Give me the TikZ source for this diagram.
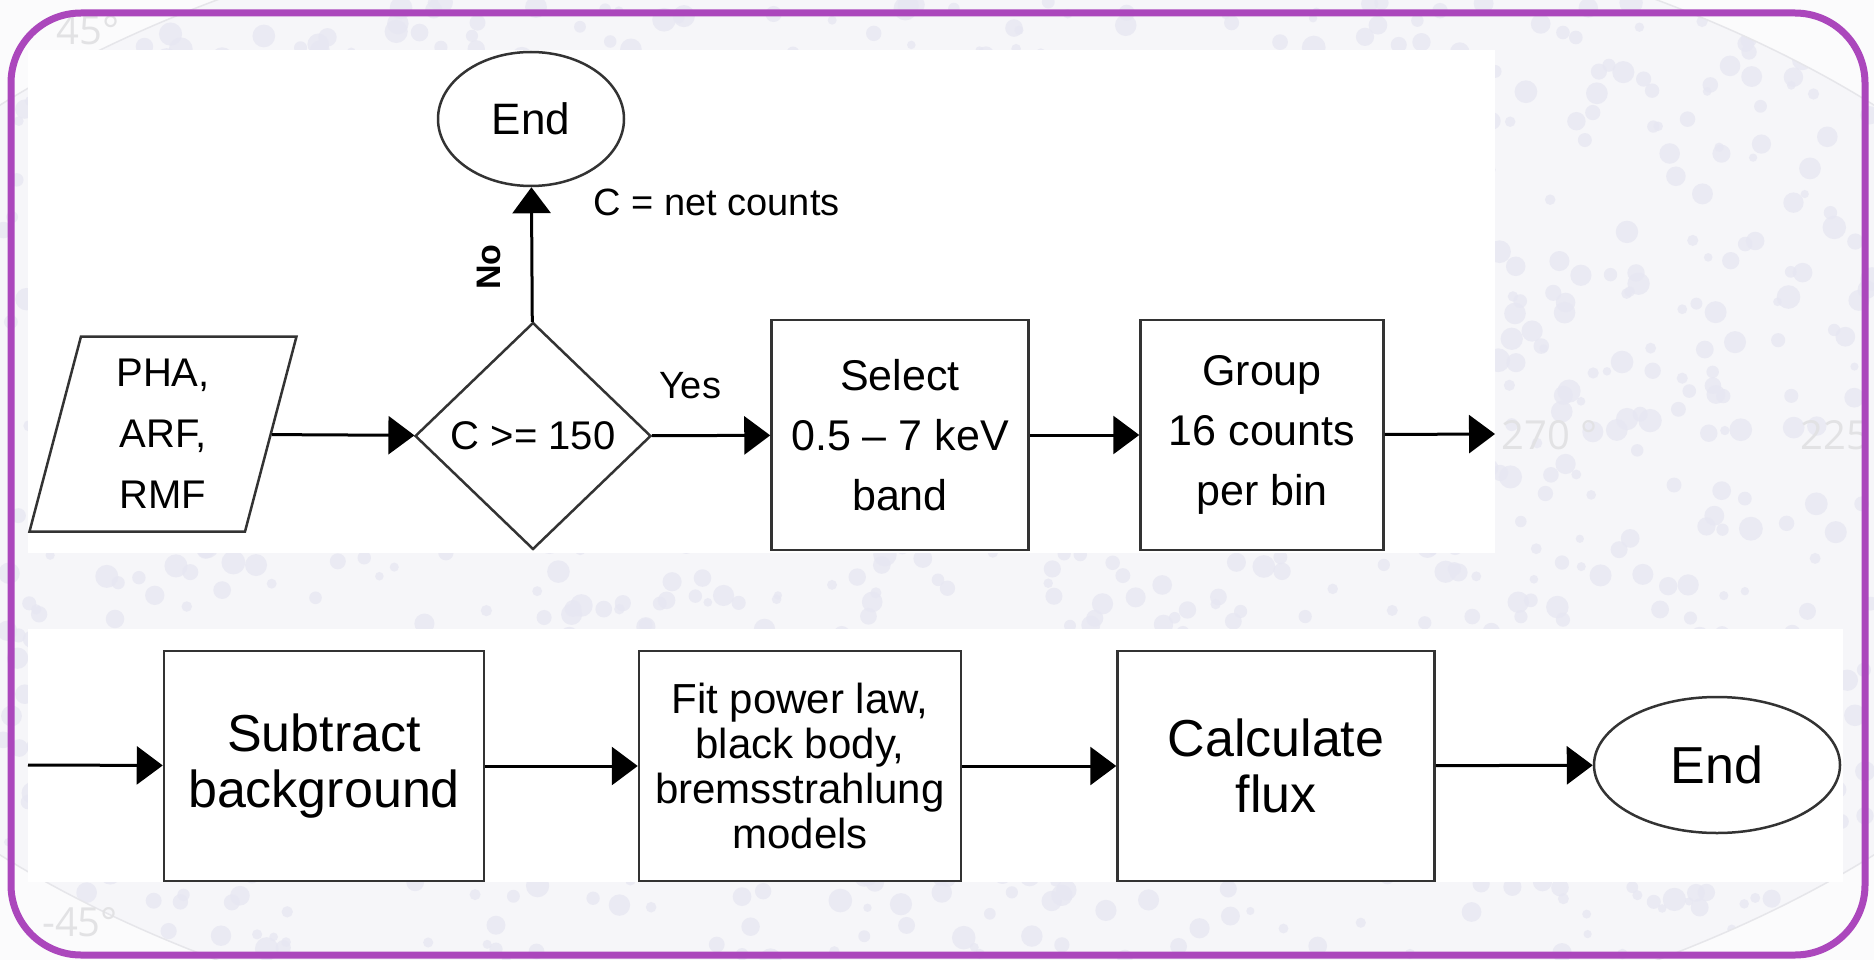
\documentclass[tikz,border=0pt]{standalone}
\usepackage{fontspec}
\setmainfont{Liberation Sans}
\newfontfamily\gridfont{Open Sans}
\usetikzlibrary{shapes.geometric,arrows.meta}

\definecolor{frame}{HTML}{AB47BC}
\definecolor{boxline}{HTML}{333333}
\definecolor{sky}{HTML}{F6F6F9}
\definecolor{skyout}{HTML}{FBFBFC}
\definecolor{skydot}{HTML}{E7E7F2}
\definecolor{skyline}{HTML}{E6E6EA}
\definecolor{gridtext}{HTML}{E2E2E4}

\newcommand{\toprowfont}{\fontsize{43}{60}\selectfont}
\newcommand{\botrowfont}{\fontsize{52}{56}\selectfont}
\newcommand{\fitfont}{\fontsize{42}{45}\selectfont}
\newcommand{\lblfont}{\fontsize{38}{44}\selectfont}

\tikzset{
  proc/.style={draw=boxline, line width=2.5pt, fill=white, align=center,
    inner sep=0pt, minimum height=230pt},
  term/.style={draw=boxline, ellipse, line width=2.5pt, fill=white, inner sep=0pt},
  arr/.style={-{Triangle[length=26pt,width=38pt]}, line width=3pt},
  gridlbl/.style={text=gridtext, font=\gridfont\fontsize{40}{44}\selectfont}
}

\begin{document}
\begin{tikzpicture}[x=1pt,y=-1pt]
  \useasboundingbox (0,0) rectangle (1874,960);

  % faint sky map behind the chart
  \fill[skyout] (0,0) rectangle (1874,960);
  \fill[sky] (937,480) ellipse [x radius=1200, y radius=600];
  \begin{scope}
    \clip (937,480) ellipse [x radius=1200, y radius=600];
    \pgfmathsetseed{11}
    \foreach \i in {1,...,1400}
      \fill[skydot, opacity=0.8] (rnd*1874,rnd*960) circle [radius=4+rnd*8];
  \end{scope}
  \draw[skyline, line width=1.5pt] (937,480) ellipse [x radius=1200, y radius=600];
  \node[gridlbl] at (88,30) {45°};
  \node[gridlbl] at (1550,435) {270 °};
  \node[gridlbl, anchor=west] at (1797,435) {225};
  \node[gridlbl] at (80,922) {-45°};

  % white panels
  \fill[white] (28,50) rectangle (1495,553);
  \fill[white] (28,629) rectangle (1843,882);

  % top row
  \node[trapezium, trapezium left angle=71, trapezium right angle=109,
    trapezium stretches body, draw=boxline, line width=2.5pt, fill=white,
    minimum width=267pt, minimum height=195pt, inner sep=0pt, align=center,
    font=\fontsize{40}{61}\selectfont] (data) at (163,434) {PHA,\\ARF,\\RMF};
  \node[diamond, draw=boxline, line width=2.5pt, fill=white, inner sep=0pt,
    minimum width=236pt, minimum height=227pt, font=\fontsize{40}{44}\selectfont]
    (check) at (533,436) {C >= 150};
  \node[term, minimum width=186pt, minimum height=134pt,
    font=\fontsize{44}{48}\selectfont] (stop1) at (531,119) {End};
  \node[proc, minimum width=257pt, font=\toprowfont] (band) at (900,435)
    {Select\\0.5 – 7 keV\\band};
  \node[proc, minimum width=243pt, font=\toprowfont] (group) at (1262,435)
    {Group\\16 counts\\per bin};
  \coordinate (out) at (1495,434);

  \node[anchor=base west, font=\lblfont] (netc) at (590,215) {C = net counts};
  \node[font=\lblfont] (yes) at (690,386) {Yes};
  \node[rotate=90, font=\bfseries\fontsize{34}{40}\selectfont] (no) at (489,267) {No};

  \draw[arr] (data) -- (check);
  \draw[arr] (check) -- (stop1);
  \draw[arr] (check) -- (band);
  \draw[arr] (band) -- (group);
  \draw[arr] (group) -- (out);

  % bottom row
  \coordinate (in) at (28,765);
  \node[proc, minimum width=320pt, font=\botrowfont] (sub) at (324,766)
    {Subtract\\background};
  \node[proc, minimum width=322pt, font=\fitfont] (fit) at (800,766)
    {Fit power law,\\black body,\\bremsstrahlung\\models};
  \node[proc, minimum width=317pt, font=\botrowfont] (flux) at (1276,766)
    {Calculate\\flux};
  \node[term, minimum width=246pt, minimum height=136pt, font=\botrowfont]
    (stop2) at (1717,765) {End};

  \draw[arr] (in) -- (sub);
  \draw[arr] (sub) -- (fit);
  \draw[arr] (fit) -- (flux);
  \draw[arr] (flux) -- (stop2);

  % frame
  \draw[frame, line width=7pt, rounded corners=70pt] (11,13) rectangle (1865,955);
\end{tikzpicture}
\end{document}
